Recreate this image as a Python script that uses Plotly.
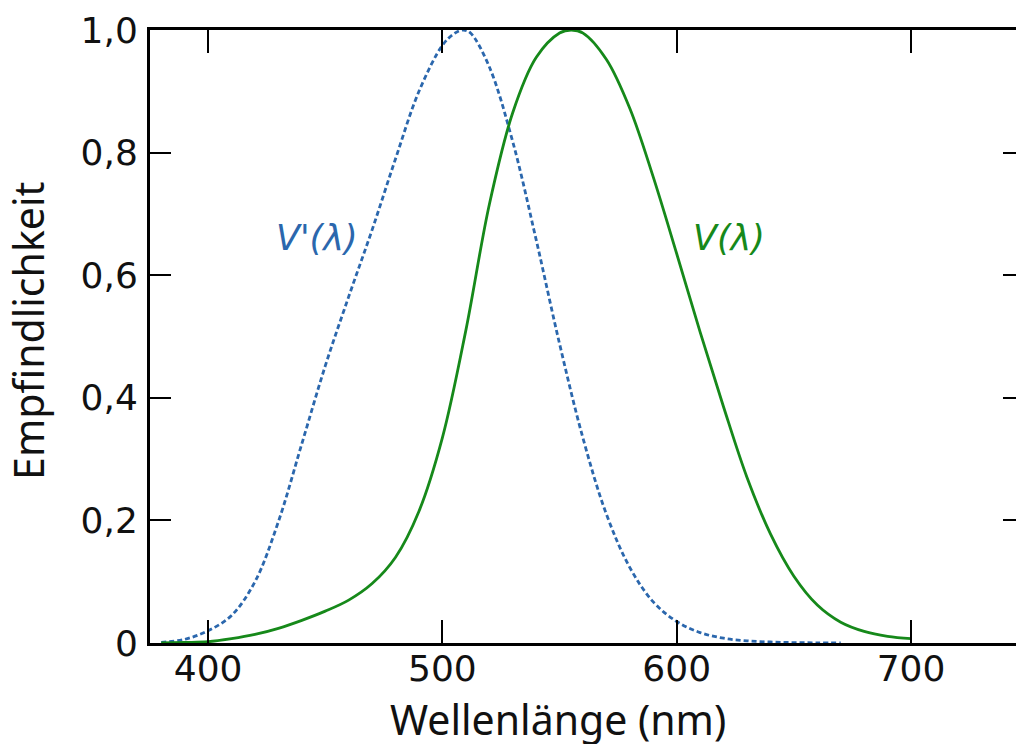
import plotly.graph_objects as go

# Photopic V(lambda)
lam_photopic = [380, 390, 400, 410, 420, 430, 440, 450, 460, 470, 480, 490, 500, 510, 520,
                530, 540, 550, 555, 560, 570, 580, 590, 600, 610, 620, 630, 640, 650, 660,
                670, 680, 690, 700]
v_photopic = [0.0, 0.0008, 0.002, 0.007, 0.014, 0.024, 0.037, 0.052, 0.070, 0.097, 0.14,
              0.215, 0.335, 0.51, 0.715, 0.865, 0.955, 0.995, 1.0, 0.995, 0.952, 0.872, 0.76,
              0.635, 0.507, 0.385, 0.27, 0.178, 0.109, 0.062, 0.034, 0.019, 0.011, 0.007]

# Scotopic V'(lambda)
lam_scotopic = [380, 390, 400, 410, 420, 430, 440, 450, 460, 470, 480, 490, 500, 505, 509,
                512, 520, 530, 540, 550, 560, 570, 580, 590, 600, 610, 620, 630, 640, 650,
                660, 670]
v_scotopic = [0.001, 0.006, 0.02, 0.045, 0.100, 0.198, 0.325, 0.452, 0.565, 0.674, 0.79,
              0.9, 0.975, 0.994, 1.0, 0.995, 0.94, 0.818, 0.658, 0.488, 0.334, 0.21,
              0.123, 0.067, 0.035, 0.017, 0.0078, 0.0035, 0.0016, 0.0007, 0.0003, 0.0001]

x_tickvals = [400, 500, 600, 700]
x_ticktext = ["400", "500", "600", "700"]
y_tickvals = [0, 0.2, 0.4, 0.6, 0.8, 1.0]
y_ticktext = ["0", "0,2", "0,4", "0,6", "0,8", "1,0"]

BLUE = "#2b67ad"
GREEN = "#16891a"

fig = go.Figure()
fig.add_trace(go.Scatter(x=lam_scotopic, y=v_scotopic, mode="lines", line_shape="spline",
                         line=dict(color=BLUE, width=2.8, dash="5px,3px"),
                         showlegend=False, hoverinfo="skip"))
fig.add_trace(go.Scatter(x=lam_photopic, y=v_photopic, mode="lines", line_shape="spline",
                         line=dict(color=GREEN, width=2.8),
                         showlegend=False, hoverinfo="skip"))
# empty trace to register the right-hand tick axis
fig.add_trace(go.Scatter(x=[], y=[], yaxis="y2", showlegend=False, hoverinfo="skip"))

tickfont = dict(family="DejaVu Sans", size=36, color="#111111")

fig.update_layout(
    width=1016, height=744,
    margin=dict(l=150, r=0, t=30, b=101),
    paper_bgcolor="white", plot_bgcolor="white",
    xaxis=dict(range=[375.2, 744.8], tickvals=x_tickvals, ticktext=x_ticktext,
               ticks="inside", ticklen=23, tickwidth=2, tickcolor="black",
               showline=True, linewidth=3, linecolor="black", mirror="ticks",
               showgrid=False, zeroline=False, tickfont=tickfont, ticklabelstandoff=-8),
    yaxis=dict(range=[0, 1], tickvals=y_tickvals, ticktext=y_ticktext,
               ticks="inside", ticklen=21, tickwidth=2, tickcolor="black",
               showline=True, linewidth=3, linecolor="black", mirror=False,
               showgrid=False, zeroline=False, tickfont=tickfont, ticklabelstandoff=2),
    yaxis2=dict(range=[0, 1], overlaying="y", side="right", anchor="x",
                tickvals=[0.2, 0.4, 0.6, 0.8], ticks="inside", ticklen=13, tickwidth=2,
                tickcolor="black", showticklabels=False, showline=False,
                showgrid=False, zeroline=False),
    annotations=[
        dict(text="Wellenlänge (nm)", x=0.471, y=-0.1235, xref="paper", yref="paper",
             xanchor="center", yanchor="middle", showarrow=False,
             font=dict(family="Noto Sans", size=41, color="#111111")),
        dict(text="Empfindlichkeit", x=-0.141, y=0.509, xref="paper", yref="paper",
             xanchor="center", yanchor="middle", textangle=-90, showarrow=False,
             font=dict(family="Noto Sans", size=41, color="#111111")),
        dict(text="V'(λ)", x=0.1928, y=0.6607, xref="paper", yref="paper",
             xanchor="center", yanchor="middle", showarrow=False,
             font=dict(family="DejaVu Sans", size=35, color=BLUE, style="italic")),
        dict(text="V(λ)", x=0.6686, y=0.6607, xref="paper", yref="paper",
             xanchor="center", yanchor="middle", showarrow=False,
             font=dict(family="DejaVu Sans", size=35, color=GREEN, style="italic")),
    ],
)

fig.write_html(
    "out.html",
    config={"displayModeBar": False},
    post_script="document.body.style.margin='0';document.body.style.overflow='hidden';",
)
